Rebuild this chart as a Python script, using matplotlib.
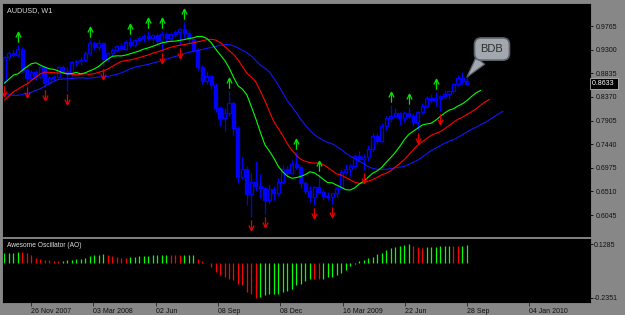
import numpy as np
import matplotlib
matplotlib.use("Agg")
import matplotlib.pyplot as plt
from matplotlib.path import Path
from matplotlib.transforms import offset_copy, blended_transform_factory

# weekly AUDUSD bars, 08 Oct 2007 .. 28 Sep 2009
opens = [0.8680, 0.9150, 0.9240, 0.9200, 0.9320, 0.8900, 0.8740, 0.8850, 0.8760, 0.8950,
         0.8640, 0.8750, 0.8770, 0.8950, 0.8880, 0.8820, 0.9050, 0.9070, 0.9100, 0.9240,
         0.9440, 0.9350, 0.9440, 0.9120, 0.9230, 0.9300, 0.9380, 0.9310, 0.9450, 0.9400,
         0.9480, 0.9530, 0.9570, 0.9520, 0.9580, 0.9460, 0.9600, 0.9520, 0.9600, 0.9650,
         0.9700, 0.9620, 0.9500, 0.9300, 0.8950, 0.8680, 0.8780, 0.8600, 0.8150, 0.7950,
         0.8050, 0.8250, 0.7750, 0.6800, 0.6950, 0.6450, 0.6700, 0.6620, 0.6580, 0.6350,
         0.6550, 0.6480, 0.6700, 0.6950, 0.6880, 0.7050, 0.6990, 0.6680, 0.6520, 0.6390,
         0.6600, 0.6500, 0.6420, 0.6390, 0.6480, 0.6580, 0.6900, 0.6950, 0.7000, 0.7200,
         0.7150, 0.7180, 0.7350, 0.7600, 0.7500, 0.7800, 0.7950, 0.8000, 0.8050, 0.7950,
         0.8050, 0.8000, 0.7880, 0.8080, 0.8200, 0.8350, 0.8300, 0.8350, 0.8380, 0.8430,
         0.8480, 0.8620, 0.8750, 0.8690]
highs = [0.9180, 0.9280, 0.9300, 0.9390, 0.9350, 0.9000, 0.8900, 0.8900, 0.8980, 0.8960,
         0.8780, 0.8800, 0.8970, 0.9000, 0.8950, 0.9080, 0.9100, 0.9150, 0.9280, 0.9490,
         0.9460, 0.9480, 0.9450, 0.9260, 0.9340, 0.9400, 0.9430, 0.9490, 0.9550, 0.9500,
         0.9560, 0.9610, 0.9660, 0.9600, 0.9620, 0.9660, 0.9640, 0.9630, 0.9690, 0.9730,
         0.9850, 0.9680, 0.9530, 0.9330, 0.8990, 0.8870, 0.8800, 0.8640, 0.8200, 0.8150,
         0.8480, 0.8290, 0.7800, 0.7180, 0.7000, 0.6880, 0.7100, 0.6850, 0.6600, 0.6650,
         0.6620, 0.6780, 0.7020, 0.7000, 0.7120, 0.7280, 0.7020, 0.6720, 0.6620, 0.6620,
         0.6850, 0.6560, 0.6500, 0.6450, 0.6620, 0.6950, 0.7050, 0.7050, 0.7250, 0.7300,
         0.7250, 0.7420, 0.7650, 0.7650, 0.7850, 0.8000, 0.8220, 0.8150, 0.8080, 0.8100,
         0.8180, 0.8050, 0.8100, 0.8250, 0.8380, 0.8420, 0.8470, 0.8400, 0.8500, 0.8500,
         0.8650, 0.8800, 0.8860, 0.8760]
lows = [0.8650, 0.9100, 0.9150, 0.9150, 0.8860, 0.8620, 0.8700, 0.8700, 0.8740, 0.8560,
        0.8600, 0.8680, 0.8750, 0.8860, 0.8480, 0.8780, 0.8980, 0.8990, 0.9060, 0.9200,
        0.9300, 0.9300, 0.8980, 0.9080, 0.9180, 0.9250, 0.9270, 0.9290, 0.9360, 0.9350,
        0.9420, 0.9450, 0.9480, 0.9440, 0.9420, 0.9300, 0.9450, 0.9470, 0.9550, 0.9400,
        0.9520, 0.9420, 0.9250, 0.8900, 0.8620, 0.8630, 0.8520, 0.8080, 0.7800, 0.7700,
        0.8000, 0.7620, 0.6670, 0.6760, 0.6250, 0.6008, 0.6520, 0.6380, 0.6060, 0.6280,
        0.6350, 0.6420, 0.6650, 0.6800, 0.6850, 0.6950, 0.6570, 0.6450, 0.6310, 0.6240,
        0.6450, 0.6350, 0.6350, 0.6260, 0.6400, 0.6550, 0.6850, 0.6820, 0.6950, 0.7080,
        0.6930, 0.7100, 0.7300, 0.7450, 0.7480, 0.7720, 0.7880, 0.7950, 0.7820, 0.7880,
        0.7950, 0.7800, 0.7720, 0.8030, 0.8150, 0.8250, 0.8200, 0.8100, 0.8320, 0.8320,
        0.8450, 0.8580, 0.8620, 0.8600]
closes = [0.9150, 0.9240, 0.9200, 0.9320, 0.8900, 0.8740, 0.8850, 0.8760, 0.8950, 0.8640,
          0.8750, 0.8770, 0.8950, 0.8880, 0.8820, 0.9050, 0.9070, 0.9100, 0.9240, 0.9440,
          0.9350, 0.9440, 0.9120, 0.9230, 0.9300, 0.9380, 0.9310, 0.9450, 0.9400, 0.9480,
          0.9530, 0.9570, 0.9520, 0.9580, 0.9460, 0.9600, 0.9520, 0.9600, 0.9650, 0.9700,
          0.9620, 0.9500, 0.9300, 0.8950, 0.8680, 0.8780, 0.8600, 0.8150, 0.7950, 0.8050,
          0.8250, 0.7750, 0.6800, 0.6950, 0.6450, 0.6700, 0.6620, 0.6580, 0.6350, 0.6550,
          0.6480, 0.6700, 0.6950, 0.6880, 0.7050, 0.6990, 0.6680, 0.6520, 0.6390, 0.6600,
          0.6500, 0.6420, 0.6390, 0.6480, 0.6580, 0.6900, 0.6950, 0.7000, 0.7200, 0.7150,
          0.7180, 0.7350, 0.7600, 0.7500, 0.7800, 0.7950, 0.8000, 0.8050, 0.7950, 0.8050,
          0.8000, 0.7880, 0.8080, 0.8200, 0.8350, 0.8300, 0.8350, 0.8380, 0.8430, 0.8480,
          0.8620, 0.8750, 0.8690, 0.8633]

# alligator values drawn before the first computed point
lips_head = [0.864, 0.872, 0.880]
teeth_head = [0.831, 0.839, 0.847, 0.852, 0.858]
jaw_head = [0.844, 0.842, 0.840, 0.840, 0.842, 0.844, 0.846, 0.850]

# fractal bars
up_fractals = [3, 19, 28, 32, 35, 40, 50, 65, 70, 86, 90, 96]
down_fractals = [0, 5, 9, 14, 22, 35, 39, 55, 58, 69, 73, 80, 92, 97]

# awesome oscillator
ao = [0.068, 0.069, 0.070, 0.072, 0.071, 0.068, 0.052, 0.037, 0.028, 0.023,
      0.019, 0.016, 0.015, 0.016, 0.018, 0.021, 0.025, 0.028, 0.034, 0.045,
      0.052, 0.056, 0.059, 0.052, 0.045, 0.041, 0.036, 0.035, 0.040, 0.043,
      0.045, 0.047, 0.050, 0.052, 0.054, 0.056, 0.057, 0.054, 0.052, 0.051,
      0.053, 0.054, 0.055, 0.030, 0.012, 0.002, -0.027, -0.060, -0.083, -0.095,
      -0.106, -0.117, -0.140, -0.151, -0.196, -0.212, -0.235, -0.228, -0.220, -0.213,
      -0.208, -0.207, -0.197, -0.192, -0.174, -0.152, -0.140, -0.123, -0.106, -0.108,
      -0.110, -0.106, -0.098, -0.093, -0.084, -0.068, -0.050, -0.023, -0.005, 0.011,
      0.018, 0.034, 0.041, 0.059, 0.070, 0.086, 0.104, 0.108, 0.113, 0.120,
      0.1285, 0.115, 0.108, 0.103, 0.105, 0.107, 0.110, 0.113, 0.115, 0.118,
      0.116, 0.112, 0.115, 0.119]

price_ticks = [0.9765, 0.9300, 0.8835, 0.8370, 0.7905, 0.7440, 0.6975, 0.6510, 0.6045]
date_pos = [5.9, 19.7, 33.7, 47.5, 61.4, 75.3, 89.2, 103.0, 116.8]
date_labels = ['26 Nov 2007', '03 Mar 2008', '02 Jun', '08 Sep', '08 Dec',
               '16 Mar 2009', '22 Jun', '28 Sep', '04 Jan 2010']


def smma(values, period, seed):
    out = []
    prev = seed
    for v in values:
        prev = (prev * (period - 1) + v) / period
        out.append(prev)
    return out


o, h, l, c = map(np.array, (opens, highs, lows, closes))
x = np.arange(len(c))
median = (h + l) / 2
lips = np.array(lips_head + smma(median, 5, lips_head[-1]))
teeth = np.array(teeth_head + smma(median, 8, teeth_head[-1]))
jaw = np.array(jaw_head + smma(median, 13, jaw_head[-1]))

GRAY = '#878787'
BLUE = '#0000ff'
plt.rcParams['font.family'] = ['Liberation Sans', 'DejaVu Sans']

fig = plt.figure(figsize=(6.25, 3.15), dpi=100, facecolor=GRAY)
ax = fig.add_axes([3/625, 79/315, 587/625, 232/315], facecolor='black')
ax2 = fig.add_axes([3/625, 13/315, 587/625, 63/315], facecolor='black')

# candles
up = c >= o
ax.vlines(x, l, h, color=BLUE, lw=0.9, zorder=2)
ax.bar(x[up], (c - o)[up], bottom=o[up], width=0.68, facecolor='black',
       edgecolor=BLUE, lw=0.9, zorder=3)
ax.bar(x[~up], (o - c)[~up], bottom=c[~up], width=0.68, facecolor=BLUE,
       edgecolor=BLUE, lw=0.9, zorder=3)

# alligator
ax.plot(np.arange(len(jaw)), jaw, color='#1414ff', lw=0.8, zorder=4)
ax.plot(np.arange(len(teeth)), teeth, color='#ff0000', lw=0.8, zorder=4)
ax.plot(np.arange(len(lips)), lips, color='#00ff00', lw=0.8, zorder=4)

# fractals
up_arrow = Path([(-0.3, 0.0), (0, 0.6), (0.3, 0.0), (0, 0.6), (0, -0.6)],
                [Path.MOVETO, Path.LINETO, Path.LINETO, Path.MOVETO, Path.LINETO])
dn_arrow = Path([(-0.3, 0.0), (0, -0.6), (0.3, 0.0), (0, -0.6), (0, 0.6)],
                [Path.MOVETO, Path.LINETO, Path.LINETO, Path.MOVETO, Path.LINETO])
t_up = offset_copy(ax.transData, fig=fig, y=8, units='dots')
t_dn = offset_copy(ax.transData, fig=fig, y=-8, units='dots')
ax.plot(x[up_fractals], h[up_fractals], ls='none', marker=up_arrow, ms=7.5,
        mec='#00e000', mfc='none', mew=0.9, transform=t_up, zorder=5)
ax.plot(x[down_fractals], l[down_fractals], ls='none', marker=dn_arrow, ms=7.5,
        mec='#e00000', mfc='none', mew=0.9, transform=t_dn, zorder=5)

ax.set_xlim(-0.33, 130.4)
ax.set_ylim(0.5632, 1.0198)
ax.set_xticks([])
ax.yaxis.tick_right()
ax.set_yticks(price_ticks)
ax.set_yticklabels(['%.4f' % v for v in price_ticks])
ax.tick_params(axis='y', length=2, width=0.6, color='black', labelsize=5,
               labelcolor='#111111', pad=2)
for s in ax.spines.values():
    s.set_color('black')

ax.text(0.006, 0.972, 'AUDUSD, W1', transform=ax.transAxes, color='#d8d8d8',
        fontsize=5.2, va='center', ha='left')

trans = blended_transform_factory(ax.transAxes, ax.transData)
ax.text(1.004, c[-1], '0.8633 ', transform=trans, color='white', fontsize=5,
        va='center', ha='left', clip_on=False,
        bbox=dict(boxstyle='square,pad=0.35', fc='black', ec='#cccccc', lw=0.5))

ax.annotate('BDB', xy=(x[-1], h[-1]), xytext=(25, 28), textcoords='offset pixels',
            ha='center', va='center', fontsize=8, color='#2e2e2e', zorder=6,
            bbox=dict(boxstyle='round,pad=0.55,rounding_size=0.6', fc='#a3a7ae',
                      ec='#5c626b', lw=1.2),
            arrowprops=dict(arrowstyle='wedge,tail_width=1.0,shrink_factor=0.5',
                            fc='#a3a7ae', ec='#5c626b', lw=0.9, shrinkA=0, shrinkB=0,
                            relpos=(0.3, 0.2)))

# awesome oscillator
ao = np.array(ao)
ao_col = ['#00ff00' if i == 0 or ao[i] > ao[i - 1] else '#ff0000' for i in range(len(ao))]
ax2.vlines(x, 0, ao, colors=ao_col, lw=0.9)
ax2.set_xlim(-0.33, 130.4)
ax2.set_ylim(-0.2642, 0.1624)
ax2.yaxis.tick_right()
ax2.set_yticks([0.1285, -0.2351])
ax2.set_yticklabels(['0.1285', '-0.2351'])
ax2.tick_params(axis='y', length=2, width=0.6, color='black', labelsize=5,
                labelcolor='#111111', pad=1)
ax2.set_xticks(date_pos)
ax2.set_xticklabels(date_labels, ha='left')
ax2.tick_params(axis='x', length=3, width=0.6, color='#222222', labelsize=5,
                labelcolor='#111111', pad=1)
for s in ax2.spines.values():
    s.set_color('black')
ax2.text(0.006, 0.9, 'Awesome Oscillator (AO)', transform=ax2.transAxes,
         color='#e0e0e0', fontsize=4.8, va='center', ha='left')

fig.savefig('out.png', dpi=100, facecolor=GRAY)
